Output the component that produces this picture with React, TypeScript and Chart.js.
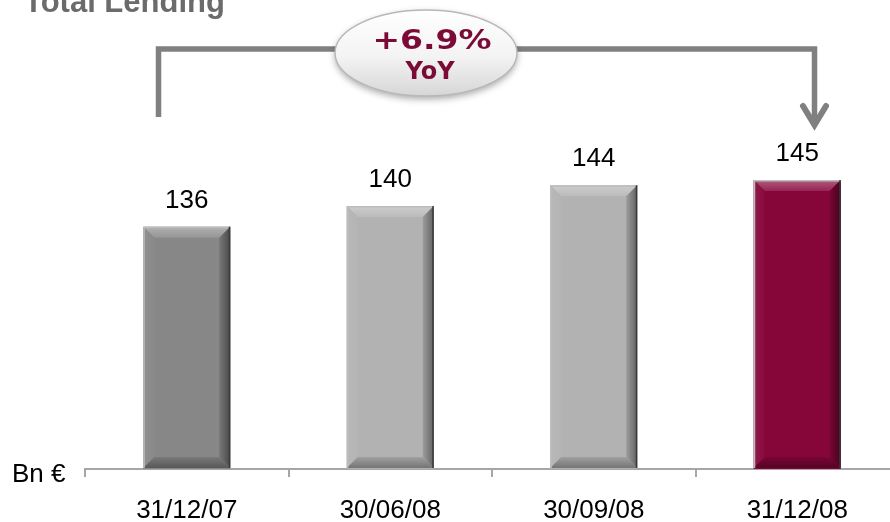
import React, { useEffect, useRef } from "react";
import { Chart, registerables } from "chart.js";

Chart.register(...registerables);

const categories = ["31/12/07", "30/06/08", "30/09/08", "31/12/08"];
const lendingValues = [136, 140, 144, 145];
const barColors = ["#878787", "#b2b2b2", "#b2b2b2", "#86063a"];
const unitLabel = "Bn €";
const titleText = "Total Lending";
const growthLabel = "+6.9%";
const growthSub = "YoY";

function mix(hex: string, amt: number): string {
  const n = parseInt(hex.slice(1), 16);
  let r = (n >> 16) & 255, g = (n >> 8) & 255, b = n & 255;
  const t = amt > 0 ? 255 : 0;
  const a = Math.abs(amt);
  r = Math.round(r + (t - r) * a);
  g = Math.round(g + (t - g) * a);
  b = Math.round(b + (t - b) * a);
  return `rgb(${r},${g},${b})`;
}

const bevelPlugin = {
  id: "bevel",
  afterDatasetsDraw(chart: any) {
    const ctx = chart.ctx;
    const meta = chart.getDatasetMeta(0);
    const bottom = chart.chartArea.bottom;
    meta.data.forEach((bar: any, i: number) => {
      const { x, y, base, width } = bar.getProps(["x", "y", "base", "width"], true);
      const x0 = x - width / 2, x1 = x + width / 2, y0 = y, y1 = Math.min(base, bottom - 1);
      const c = barColors[i];
      const b = 11;
      ctx.save();
      // top band
      let g = ctx.createLinearGradient(0, y0, 0, y0 + b);
      g.addColorStop(0, mix(c, 0.35));
      g.addColorStop(1, mix(c, 0.12));
      ctx.fillStyle = g;
      ctx.beginPath();
      ctx.moveTo(x0, y0); ctx.lineTo(x1, y0); ctx.lineTo(x1 - b, y0 + b); ctx.lineTo(x0 + b, y0 + b); ctx.closePath();
      ctx.fill();
      // left band
      g = ctx.createLinearGradient(x0, 0, x0 + b, 0);
      g.addColorStop(0, mix(c, 0.08));
      g.addColorStop(1, mix(c, 0.02));
      ctx.fillStyle = g;
      ctx.beginPath();
      ctx.moveTo(x0, y0); ctx.lineTo(x0 + b, y0 + b); ctx.lineTo(x0 + b, y1 - b); ctx.lineTo(x0, y1); ctx.closePath();
      ctx.fill();
      // right band
      g = ctx.createLinearGradient(x1 - b, 0, x1, 0);
      g.addColorStop(0, mix(c, -0.12));
      g.addColorStop(1, mix(c, -0.45));
      ctx.fillStyle = g;
      ctx.beginPath();
      ctx.moveTo(x1, y0); ctx.lineTo(x1, y1); ctx.lineTo(x1 - b, y1 - b); ctx.lineTo(x1 - b, y0 + b); ctx.closePath();
      ctx.fill();
      // bottom band
      g = ctx.createLinearGradient(0, y1 - b, 0, y1);
      g.addColorStop(0, mix(c, -0.1));
      g.addColorStop(1, mix(c, -0.35));
      ctx.fillStyle = g;
      ctx.beginPath();
      ctx.moveTo(x0, y1); ctx.lineTo(x1, y1); ctx.lineTo(x1 - b, y1 - b); ctx.lineTo(x0 + b, y1 - b); ctx.closePath();
      ctx.fill();
      // outline
      ctx.lineWidth = 1.5;
      ctx.strokeStyle = "#bdbdbd";
      ctx.beginPath(); ctx.moveTo(x0 + 0.75, y1); ctx.lineTo(x0 + 0.75, y0 + 0.75); ctx.lineTo(x1, y0 + 0.75); ctx.stroke();
      ctx.strokeStyle = "#3a3a3a";
      ctx.beginPath(); ctx.moveTo(x1 - 0.75, y0); ctx.lineTo(x1 - 0.75, y1); ctx.stroke();
      // value label
      ctx.fillStyle = "#000000";
      ctx.font = "26px 'Liberation Sans', Arial, sans-serif";
      ctx.textAlign = "center";
      ctx.textBaseline = "alphabetic";
      ctx.fillText(String(lendingValues[i]), x, y0 - 19);
      ctx.restore();
    });
  },
  afterDraw(chart: any) {
    const ctx = chart.ctx;
    ctx.save();
    // title
    ctx.fillStyle = "#6b6b6b";
    ctx.font = "bold 31px 'Liberation Sans', Arial, sans-serif";
    ctx.textAlign = "left";
    ctx.textBaseline = "alphabetic";
    ctx.fillText(titleText, 24, 12);
    // unit
    ctx.fillStyle = "#000000";
    ctx.font = "26px 'Liberation Sans', Arial, sans-serif";
    ctx.textBaseline = "middle";
    ctx.fillText(unitLabel, 12, 475);
    // bracket
    ctx.strokeStyle = "#808080";
    ctx.lineWidth = 5.5;
    ctx.lineCap = "butt";
    ctx.lineJoin = "miter";
    ctx.beginPath();
    ctx.moveTo(158.5, 117);
    ctx.lineTo(158.5, 49);
    ctx.lineTo(814.5, 49);
    ctx.lineTo(814.5, 124);
    ctx.stroke();
    ctx.lineWidth = 6;
    ctx.lineCap = "round";
    ctx.lineJoin = "miter";
    ctx.beginPath();
    ctx.moveTo(803, 106);
    ctx.lineTo(814.5, 125);
    ctx.lineTo(826, 106);
    ctx.stroke();
    // ellipse
    ctx.save();
    ctx.shadowColor = "rgba(0,0,0,0.35)";
    ctx.shadowBlur = 7;
    ctx.shadowOffsetY = 3;
    ctx.beginPath();
    ctx.ellipse(426, 53, 91, 43, 0, 0, Math.PI * 2);
    const g = ctx.createLinearGradient(0, 10, 0, 96);
    g.addColorStop(0, "#ffffff");
    g.addColorStop(0.55, "#f3f3f3");
    g.addColorStop(1, "#d6d6d6");
    ctx.fillStyle = g;
    ctx.fill();
    ctx.restore();
    ctx.beginPath();
    ctx.ellipse(426, 53, 91, 43, 0, 0, Math.PI * 2);
    ctx.strokeStyle = "#b8b8b8";
    ctx.lineWidth = 1.5;
    ctx.stroke();
    // growth text
    ctx.fillStyle = "#7c0a36";
    ctx.textAlign = "center";
    ctx.textBaseline = "middle";
    ctx.save();
    ctx.translate(432, 42);
    ctx.scale(1.22, 1);
    ctx.font = "bold 27px 'DejaVu Sans', Verdana, sans-serif";
    ctx.fillText(growthLabel, 0, 0);
    ctx.restore();
    ctx.font = "bold 24px 'DejaVu Sans', Verdana, sans-serif";
    ctx.fillText(growthSub, 430, 73);
    ctx.restore();
  },
};

export default function App() {
  const ref = useRef<HTMLCanvasElement | null>(null);
  useEffect(() => {
    if (!ref.current) return;
    const chart = new Chart(ref.current, {
      type: "bar",
      data: {
        labels: categories,
        datasets: [
          {
            data: lendingValues,
            backgroundColor: barColors,
            borderWidth: 0,
            barPercentage: 0.855,
            categoryPercentage: 0.5,
          },
        ],
      },
      options: {
        responsive: false,
        animation: false,
        devicePixelRatio: 1,
        layout: { padding: { left: 85, right: 6, top: 0, bottom: 0 } },
        plugins: { legend: { display: false }, tooltip: { enabled: false }, title: { display: false } },
        scales: {
          y: { display: false, min: 89.3, max: 179.7 },
          x: {
            afterFit: (scale: any) => {
              scale.height = 53;
            },
            grid: {
              display: true,
              drawOnChartArea: false,
              drawTicks: true,
              tickLength: 8,
              color: "#a6a6a6",
              lineWidth: 2,
              offset: true,
            },
            border: { display: true, color: "#a6a6a6", width: 2 },
            ticks: {
              color: "#000000",
              font: { family: "'Liberation Sans', Arial, sans-serif", size: 26 },
              padding: 18,
            },
          },
        },
      },
      plugins: [bevelPlugin],
    });
    return () => chart.destroy();
  }, []);
  return (
    <div style={{ position: "fixed", left: 0, top: 0, width: 890, height: 522, overflow: "hidden", background: "#ffffff" }}>
      <canvas ref={ref} width={905} height={522} style={{ display: "block" }} />
    </div>
  );
}
